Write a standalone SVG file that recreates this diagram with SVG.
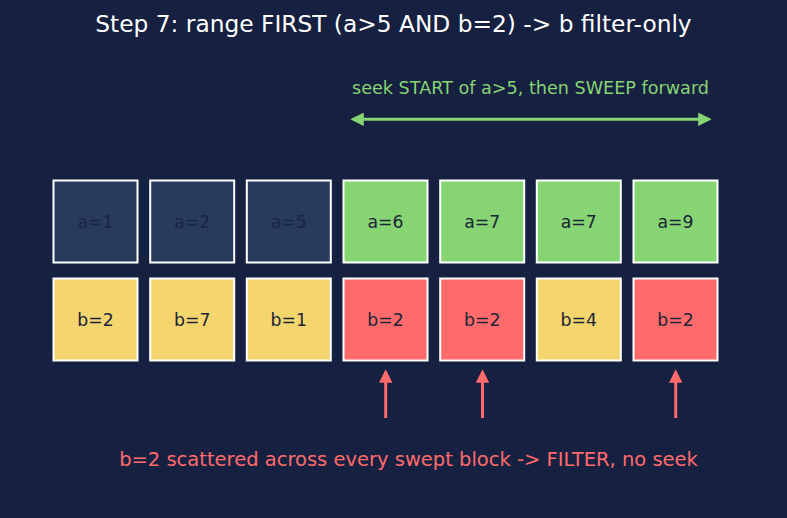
<svg xmlns="http://www.w3.org/2000/svg" width="787" height="518" viewBox="0 0 787 518">
<defs>
<style>
text{font-family:"DejaVu Sans",sans-serif;text-anchor:middle}
.box rect{stroke:#ffffff;stroke-width:2}
.box text{font-size:17.3px;fill:#1b2438;dominant-baseline:central}
.dim rect{fill:#283a5e}
.dim text{fill:#1a2540}
.grn rect{fill:#86d472}
.yel rect{fill:#f4d56e}
.red rect{fill:#ff6b6b}
</style>
<marker id="ag" viewBox="0 0 10 10" refX="8" refY="5" markerWidth="4.5" markerHeight="4.5" orient="auto-start-reverse"><path d="M0,0L10,5L0,10z" fill="#86d472"/></marker>
<marker id="ar" viewBox="0 0 10 10" refX="8" refY="5" markerWidth="4.5" markerHeight="4.5" orient="auto"><path d="M0,0L10,5L0,10z" fill="#ff6b6b"/></marker>
</defs>
<rect width="787" height="518" fill="#162040"/>
<text x="393.5" y="32" font-size="23.3" fill="#ffffff">Step 7: range FIRST (a&gt;5 AND b=2) -&gt; b filter-only</text>
<text x="530.5" y="94" font-size="17.6" fill="#86d472">seek START of a&gt;5, then SWEEP forward</text>
<g id="a1" class="box dim"><rect x="53.5" y="180.5" width="84" height="82"/><text x="95.5" y="221.5">a=1</text></g>
<g id="a2" class="box dim"><rect x="150.2" y="180.5" width="84" height="82"/><text x="192.2" y="221.5">a=2</text></g>
<g id="a5" class="box dim"><rect x="246.8" y="180.5" width="84" height="82"/><text x="288.8" y="221.5">a=5</text></g>
<g id="a6" class="box grn"><rect x="343.5" y="180.5" width="84" height="82"/><text x="385.5" y="221.5">a=6</text></g>
<g id="a7a" class="box grn"><rect x="440.2" y="180.5" width="84" height="82"/><text x="482.2" y="221.5">a=7</text></g>
<g id="a7b" class="box grn"><rect x="536.8" y="180.5" width="84" height="82"/><text x="578.8" y="221.5">a=7</text></g>
<g id="a9" class="box grn"><rect x="633.5" y="180.5" width="84" height="82"/><text x="675.5" y="221.5">a=9</text></g>
<g id="b2a" class="box yel"><rect x="53.5" y="278.5" width="84" height="82"/><text x="95.5" y="319.5">b=2</text></g>
<g id="b7" class="box yel"><rect x="150.2" y="278.5" width="84" height="82"/><text x="192.2" y="319.5">b=7</text></g>
<g id="b1" class="box yel"><rect x="246.8" y="278.5" width="84" height="82"/><text x="288.8" y="319.5">b=1</text></g>
<g id="b2b" class="box red"><rect x="343.5" y="278.5" width="84" height="82"/><text x="385.5" y="319.5">b=2</text></g>
<g id="b2c" class="box red"><rect x="440.2" y="278.5" width="84" height="82"/><text x="482.2" y="319.5">b=2</text></g>
<g id="b4" class="box yel"><rect x="536.8" y="278.5" width="84" height="82"/><text x="578.8" y="319.5">b=4</text></g>
<g id="b2d" class="box red"><rect x="633.5" y="278.5" width="84" height="82"/><text x="675.5" y="319.5">b=2</text></g>
<g id="connectors">
<line x1="353" y1="119.3" x2="709" y2="119.3" stroke="#86d472" stroke-width="3" marker-start="url(#ag)" marker-end="url(#ag)"/>
<line x1="385.7" y1="418" x2="385.7" y2="372" stroke="#ff6b6b" stroke-width="3" marker-end="url(#ar)"/>
<line x1="482.5" y1="418" x2="482.5" y2="372" stroke="#ff6b6b" stroke-width="3" marker-end="url(#ar)"/>
<line x1="675.7" y1="418" x2="675.7" y2="372" stroke="#ff6b6b" stroke-width="3" marker-end="url(#ar)"/>
</g>
<text x="408.5" y="466" font-size="19.5" fill="#ff6b6b">b=2 scattered across every swept block -&gt; FILTER, no seek</text>
</svg>
